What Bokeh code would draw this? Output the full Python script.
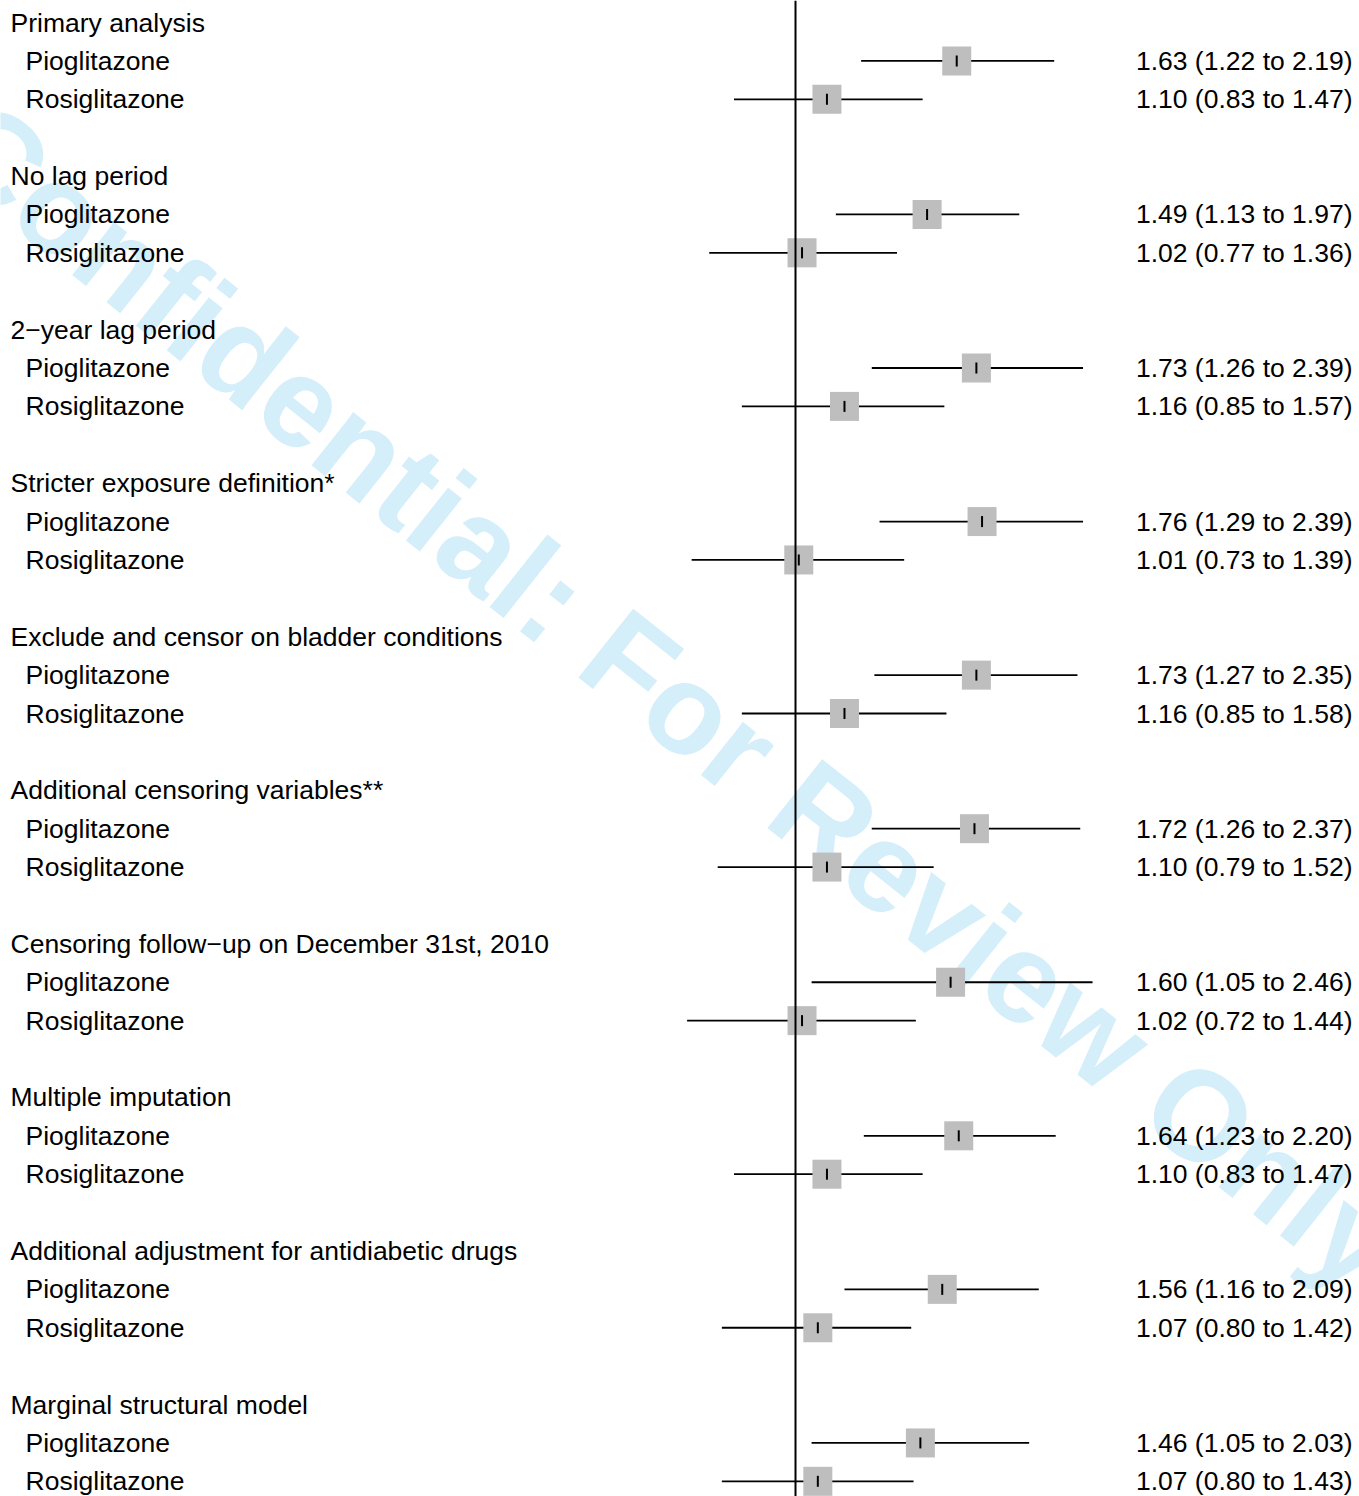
import numpy as np
from bokeh.plotting import figure
from bokeh.models import Range1d, ColumnDataSource, Span, LinearScale
from bokeh.core.properties import value
from bokeh.embed import file_html
from bokeh.resources import INLINE

# ---------------- data ----------------
groups = [
    "Primary analysis",
    "No lag period",
    "2\u2212year lag period",
    "Stricter exposure definition*",
    "Exclude and censor on bladder conditions",
    "Additional censoring variables**",
    "Censoring follow\u2212up on December 31st, 2010",
    "Multiple imputation",
    "Additional adjustment for antidiabetic drugs",
    "Marginal structural model",
]
drugs = ["Pioglitazone", "Rosiglitazone"]
pio_hr = [1.63, 1.49, 1.73, 1.76, 1.73, 1.72, 1.60, 1.64, 1.56, 1.46]
pio_lo = [1.22, 1.13, 1.26, 1.29, 1.27, 1.26, 1.05, 1.23, 1.16, 1.05]
pio_hi = [2.19, 1.97, 2.39, 2.39, 2.35, 2.37, 2.46, 2.20, 2.09, 2.03]
rosi_hr = [1.10, 1.02, 1.16, 1.01, 1.16, 1.10, 1.02, 1.10, 1.07, 1.07]
rosi_lo = [0.83, 0.77, 0.85, 0.73, 0.85, 0.79, 0.72, 0.83, 0.80, 0.80]
rosi_hi = [1.47, 1.36, 1.57, 1.39, 1.58, 1.52, 1.44, 1.47, 1.42, 1.43]
null_value = 1.0
watermark = "Confidential: For Review Only"
footer = "https://mc.manuscriptcentral.com/bmj"

# ---------------- layout ----------------
W, H = 1359, 1496
REF_PX = 795.0      # px of HR = 1
PX_PER_LN = 330.0
ROW0_PX = 22.0      # px of row 0
ROW_PITCH = 38.39

x_lo = np.exp((0 - REF_PX) / PX_PER_LN)
x_hi = np.exp((W - REF_PX) / PX_PER_LN)
y_top = (0 - ROW0_PX) / ROW_PITCH
y_bot = (H - ROW0_PX) / ROW_PITCH

p = figure(width=W, height=H, x_axis_type="log",
           x_range=Range1d(x_lo, x_hi), y_range=Range1d(y_bot, y_top),
           output_backend="svg", toolbar_location=None,
           min_border=0, min_border_left=0, min_border_right=0,
           min_border_top=0, min_border_bottom=0)
p.xaxis.visible = False
p.yaxis.visible = False
p.grid.visible = False
p.outline_line_color = None
p.background_fill_color = "white"
p.border_fill_color = "white"
p.extra_x_ranges = {"px": Range1d(0, W)}
p.extra_x_scales = {"px": LinearScale()}
p.extra_y_ranges = {"py": Range1d(H, 0)}
p.extra_y_scales = {"py": LinearScale()}

font = value("Liberation Sans")

# watermark (underneath)
p.text(x=[-41], y=[128], text=[watermark], angle=[np.deg2rad(-38.5)],
       x_range_name="px", y_range_name="py",
       text_font=font, text_font_style="bold",
       text_font_size="128px", text_color="#d4eefa",
       text_align="left", text_baseline="alphabetic")

# rows
n = len(groups)
hdr_rows = [4 * i for i in range(n)]
pio_rows = [4 * i + 1 for i in range(n)]
rosi_rows = [4 * i + 2 for i in range(n)]

hr = pio_hr + rosi_hr
lo = pio_lo + rosi_lo
hi = pio_hi + rosi_hi
rows = pio_rows + rosi_rows
src = ColumnDataSource(dict(hr=hr, lo=lo, hi=hi, row=rows,
                            lab=[f"{a:.2f} ({b:.2f} to {c:.2f})" for a, b, c in zip(hr, lo, hi)],
                            drug=[drugs[0]] * n + [drugs[1]] * n))

# reference line
p.add_layout(Span(location=null_value, dimension="height", line_color="black", line_width=2))

p.segment(x0="lo", x1="hi", y0="row", y1="row", source=src, line_color="black", line_width=1.8)
p.scatter(x="hr", y="row", source=src, marker="square", size=29,
          fill_color="#bebebe", line_color=None)
p.scatter(x="hr", y="row", source=src, marker="dash", size=11, angle=np.pi / 2,
          line_color="black", line_width=2)

p.text(x=[10] * n, y=hdr_rows, text=groups, x_range_name="px",
       text_font=font, text_font_size="26.5px", text_color="black",
       text_align="left", text_baseline="middle")
p.text(x=25, y="row", text="drug", source=src, x_range_name="px",
       text_font=font, text_font_size="26.5px", text_color="black",
       text_align="left", text_baseline="middle")
p.text(x=1352, y="row", text="lab", source=src, x_range_name="px",
       text_font=font, text_font_size="26.5px", text_color="black",
       text_align="right", text_baseline="middle")

# footer (cut by the page edge, as in the reference)
p.text(x=[440], y=[1509], text=[footer], x_range_name="px", y_range_name="py",
       text_font=font, text_font_style="bold italic", text_font_size="25.7px",
       text_color="#555555", text_align="left", text_baseline="alphabetic")

open("out.html", "w").write(file_html(p, INLINE))
